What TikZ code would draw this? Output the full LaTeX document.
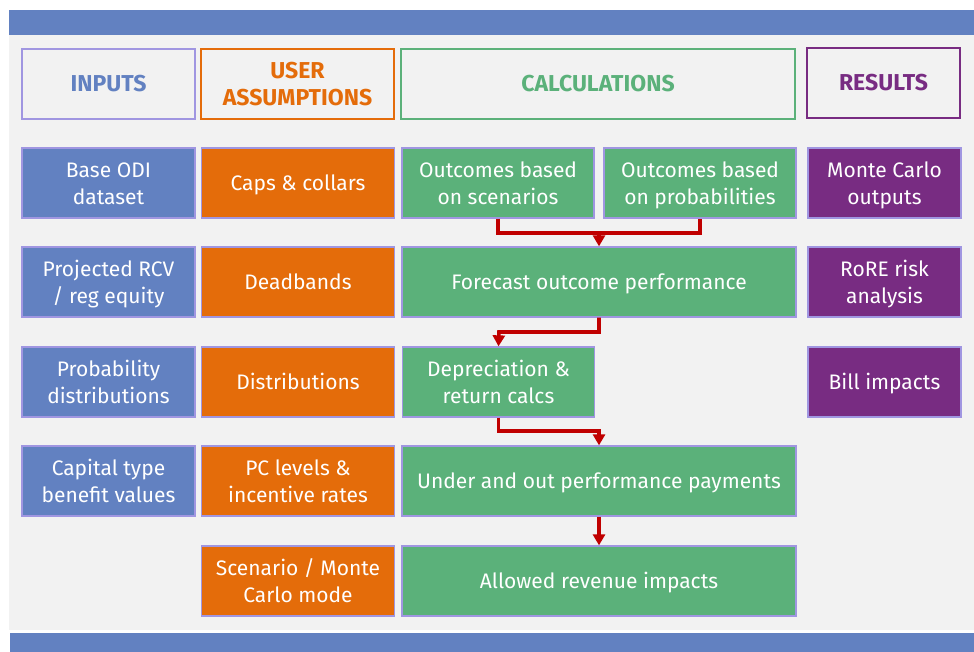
\documentclass[tikz,border=0pt]{standalone}
\usepackage{fontspec}
\setmainfont{Fira Sans}
\usetikzlibrary{arrows.meta}
\definecolor{cblue}{RGB}{98,129,193}
\definecolor{corange}{RGB}{228,108,10}
\definecolor{cgreen}{RGB}{91,177,122}
\definecolor{cpurple}{RGB}{120,44,130}
\definecolor{cedge}{RGB}{160,150,225}
\definecolor{cgrey}{RGB}{242,242,242}
\definecolor{cred}{RGB}{192,0,0}
\tikzset{
  box/.style={draw=cedge, line width=1.3pt, inner sep=0pt, align=center, text=white,
    font=\fontsize{21}{27}\selectfont, minimum height=70pt},
  oneline/.style={box, execute at begin node={\rule[-6.5pt]{0pt}{27.5pt}}},
  twoline/.style={box, execute at begin node={\rule[-6pt]{0pt}{55.4pt}}},
  head/.style={line width=1.3pt, inner sep=0pt, align=center, fill=cgrey,
    font=\fontsize{23}{27}\selectfont\bfseries, minimum height=70pt},
  flow/.style={draw=cred, line width=3.6pt, -{Triangle[length=11pt,width=12pt]}},
  redline/.style={draw=cred, line width=3.6pt}
}
\begin{document}
\begin{tikzpicture}[x=1pt,y=-1pt]
\useasboundingbox (0,0) rectangle (974,652);
\fill[white] (0,0) rectangle (974,652);
\fill[cgrey] (9,35) rectangle (974,630);
\fill[cblue] (9,10) rectangle (974,35);
\fill[cblue] (10,633) rectangle (974,652);
% headers
\node[head, draw=cedge, text=cblue, minimum width=173pt] (hin) at (108.5,84) {INPUTS};
\node[head, draw=corange, text=corange, minimum width=193pt] (hua) at (297.5,84) {USER\\ASSUMPTIONS};
\node[head, draw=cgreen, text=cgreen, minimum width=394pt] (hca) at (598,84) {CALCULATIONS};
\node[head, draw=cpurple, text=cpurple, minimum width=153pt] (hre) at (883.5,83) {RESULTS};
% inputs
\node[twoline, fill=cblue, minimum width=173pt] (i1) at (108.5,183) {Base ODI\\dataset};
\node[twoline, fill=cblue, minimum width=173pt] (i2) at (108.5,282) {Projected RCV\\/ reg equity};
\node[twoline, fill=cblue, minimum width=173pt] (i3) at (108.5,382) {Probability\\distributions};
\node[twoline, fill=cblue, minimum width=173pt] (i4) at (108.5,481) {Capital type\\benefit values};
% user assumptions
\node[oneline, fill=corange, minimum width=193pt] (u1) at (298,183) {Caps \& collars};
\node[oneline, fill=corange, minimum width=193pt] (u2) at (298,282) {Deadbands};
\node[oneline, fill=corange, minimum width=193pt] (u3) at (298,382) {Distributions};
\node[twoline, fill=corange, minimum width=193pt] (u4) at (298,481) {PC levels \&\\incentive rates};
\node[twoline, fill=corange, minimum width=193pt] (u5) at (298,581) {Scenario / Monte\\Carlo mode};
% calculations
\node[twoline, fill=cgreen, minimum width=192pt] (c1) at (498,183) {Outcomes based\\on scenarios};
\node[twoline, fill=cgreen, minimum width=192pt] (c2) at (700,183) {Outcomes based\\on probabilities};
\node[oneline, fill=cgreen, minimum width=394pt] (c3) at (599,282) {Forecast outcome performance};
\node[twoline, fill=cgreen, minimum width=192pt] (c4) at (498.5,382) {Depreciation \&\\return calcs};
\node[oneline, fill=cgreen, minimum width=394pt] (c5) at (599,481) {Under and out performance payments};
\node[oneline, fill=cgreen, minimum width=394pt] (c6) at (599,581) {Allowed revenue impacts};
% results
\node[twoline, fill=cpurple, minimum width=153pt] (r1) at (884.5,183) {Monte Carlo\\outputs};
\node[twoline, fill=cpurple, minimum width=153pt] (r2) at (884.5,282) {RoRE risk\\analysis};
\node[oneline, fill=cpurple, minimum width=153pt] (r3) at (884.5,382) {Bill impacts};
% connectors
\coordinate (m1) at (599,233);
\draw[redline] (c1.south) |- (m1) -| (c2.south);
\draw[flow] (m1) -- (c3.north);
\coordinate (m2) at (499,332);
\draw[flow] (c3.south) |- (m2) -- (c4.north);
\coordinate (m3) at (599,431);
\draw[flow] (c4.south) |- (m3) -- (c5.north);
\draw[flow] (c5.south) -- (c6.north);
\end{tikzpicture}
\end{document}
